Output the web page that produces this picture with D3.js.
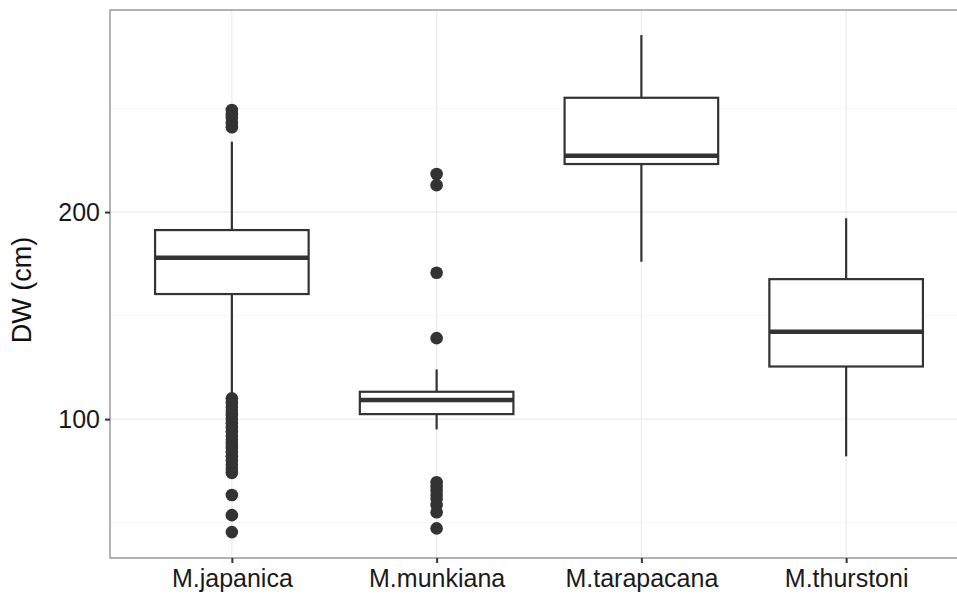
<!DOCTYPE html>
<html>
<head>
<meta charset="utf-8">
<script src="https://cdn.jsdelivr.net/npm/d3@7"></script>
<style>
  body { margin: 0; background: #fff; }
  svg { display: block; font-family: "Liberation Sans", Arial, sans-serif; }
</style>
</head>
<body>
<svg id="chart" width="957" height="598"></svg>
<script>
// species on the x axis
const SPECIES = ["M.japanica", "M.munkiana", "M.tarapacana", "M.thurstoni"]

// box stats: lower whisker, q1, median, q3, upper whisker
const LOWER = [112.5, 95, 176, 82]
const Q1 = [160.4, 102.4, 223.2, 125.4]
const MEDIAN = [177.9, 109.2, 227.2, 142.2]
const Q3 = [191.3, 113.2, 255.2, 167.6]
const UPPER = [234, 124, 285.5, 197]

// outliers per species
const OUTLIERS = [
  [249.3, 247.3, 245.4, 243, 241,
   110, 108, 106, 104, 102, 100, 98, 96, 94, 92, 90, 88, 86, 84, 82, 80, 78, 76, 74, 63.3, 53.6, 45.4],
  [218.4, 213, 170.7, 139.1, 69.5, 67.5, 65.5, 63.5, 61.5, 58.5, 55, 47.2],
  [],
  [],
]

const Y_TICKS = [100, 200]
const Y_MINOR = [50, 150, 250]

const svg = d3.select("#chart")

const pLeft = 110, pRight = 969, pTop = 10, pBottom = 558

const x = d3.scalePoint().domain(SPECIES).range([pLeft - 1, pRight]).padding(0.6)
const y = d3.scaleLinear().domain([32.9, 297.6]).range([pBottom, pTop])

const boxW = x.step() * 0.75
const ink = "#333333"
const gridCol = "#ebebeb"

// grid
const grid = svg.append("g")
Y_MINOR.forEach((v) => {
  grid.append("line")
    .attr("x1", pLeft).attr("x2", pRight)
    .attr("y1", y(v)).attr("y2", y(v))
    .attr("stroke", "#f5f5f5").attr("stroke-width", 1)
})
Y_TICKS.forEach((v) => {
  grid.append("line")
    .attr("x1", pLeft).attr("x2", pRight)
    .attr("y1", y(v)).attr("y2", y(v))
    .attr("stroke", gridCol).attr("stroke-width", 1.2)
})
SPECIES.forEach((s) => {
  grid.append("line")
    .attr("x1", x(s)).attr("x2", x(s))
    .attr("y1", pTop).attr("y2", pBottom)
    .attr("stroke", gridCol).attr("stroke-width", 1.2)
})

// boxes
SPECIES.forEach((s, i) => {
  const cx = x(s)
  const g = svg.append("g")
  g.append("line")
    .attr("x1", cx).attr("x2", cx)
    .attr("y1", y(UPPER[i])).attr("y2", y(Q3[i]))
    .attr("stroke", ink).attr("stroke-width", 2.2)
  g.append("line")
    .attr("x1", cx).attr("x2", cx)
    .attr("y1", y(Q1[i])).attr("y2", y(LOWER[i]))
    .attr("stroke", ink).attr("stroke-width", 2.2)
  g.append("rect")
    .attr("x", cx - boxW / 2).attr("width", boxW)
    .attr("y", y(Q3[i])).attr("height", y(Q1[i]) - y(Q3[i]))
    .attr("fill", "#fff").attr("stroke", ink).attr("stroke-width", 2.2)
  g.append("line")
    .attr("x1", cx - boxW / 2).attr("x2", cx + boxW / 2)
    .attr("y1", y(MEDIAN[i])).attr("y2", y(MEDIAN[i]))
    .attr("stroke", ink).attr("stroke-width", 4.4)
  g.selectAll("circle")
    .data(OUTLIERS[i])
    .join("circle")
    .attr("cx", cx).attr("cy", (d) => y(d))
    .attr("r", 6.3).attr("fill", ink)
})

// panel border
svg.append("rect")
  .attr("x", pLeft).attr("y", pTop)
  .attr("width", pRight - pLeft).attr("height", pBottom - pTop)
  .attr("fill", "none").attr("stroke", "#9a9a9a").attr("stroke-width", 1.5)

// y axis
const yAxis = svg.append("g")
  .attr("transform", `translate(${pLeft},0)`)
  .call(d3.axisLeft(y).tickValues(Y_TICKS).tickSize(5).tickPadding(5))
yAxis.select(".domain").remove()
yAxis.selectAll(".tick line").attr("stroke", ink).attr("stroke-width", 2)
yAxis.selectAll(".tick text").attr("fill", "#1a1a1a").attr("font-size", 25)
  .attr("font-family", "Liberation Sans, Arial, sans-serif")

// x axis
const xAxis = svg.append("g")
  .attr("transform", `translate(0,${pBottom})`)
  .call(d3.axisBottom(x).tickSize(5).tickPadding(6))
xAxis.select(".domain").remove()
xAxis.selectAll(".tick line").attr("stroke", ink).attr("stroke-width", 2)
xAxis.selectAll(".tick text").attr("fill", "#1a1a1a").attr("font-size", 25)
  .attr("font-family", "Liberation Sans Narrow, Liberation Sans, Arial, sans-serif")

// axis title
svg.append("text")
  .attr("transform", `translate(31,${(pTop + pBottom) / 2 + 6}) rotate(-90)`)
  .attr("text-anchor", "middle")
  .attr("font-size", 27)
  .attr("fill", "#111")
  .text("DW (cm)")
</script>
</body>
</html>
